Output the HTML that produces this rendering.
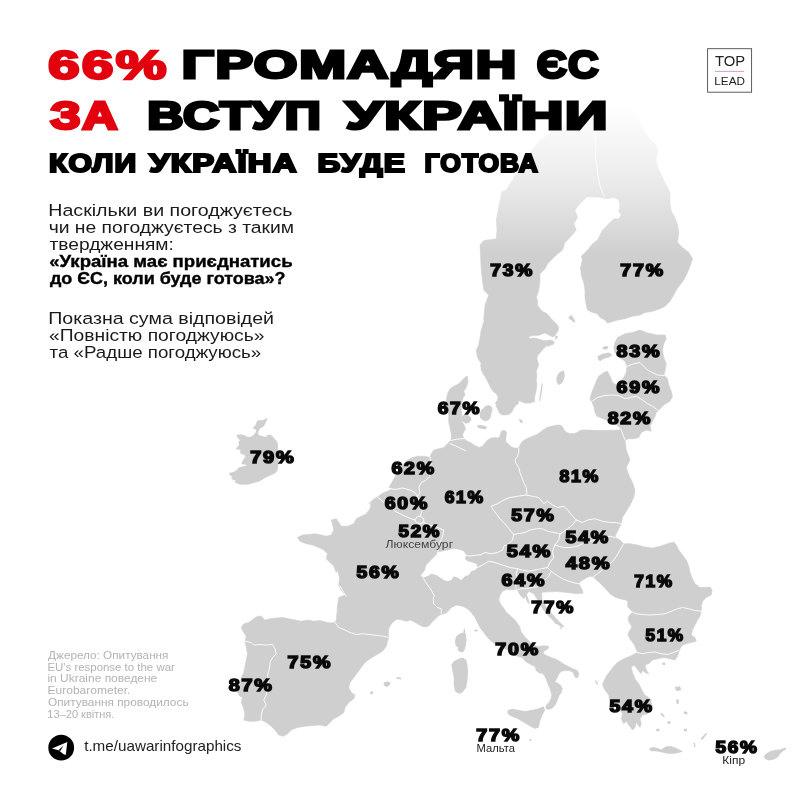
<!DOCTYPE html>
<html><head><meta charset="utf-8"><title>EU</title>
<style>
html,body{margin:0;padding:0;background:#fff;}
body{width:800px;height:800px;position:relative;overflow:hidden;font-family:"Liberation Sans",sans-serif;}
text{font-family:"Liberation Sans",sans-serif;}
</style></head><body>
<svg width="800" height="800" viewBox="0 0 800 800" style="position:absolute;left:0;top:0;will-change:transform">
<defs><linearGradient id="fade" gradientUnits="userSpaceOnUse" x1="0" y1="105" x2="0" y2="255"><stop offset="0" stop-color="#ffffff"/><stop offset="0.53" stop-color="#eaeaea"/><stop offset="1" stop-color="#cfcfcf"/></linearGradient></defs>
<path d="M608 104 L590 108 L575 116 L554 130 L541 139.5 L530 152.5 L521 165 L513.6 178.5 L506.25 190 L501.25 192 L501.25 195 L496.25 220 L497 230 L496.25 238.75 L483.75 240.5 L480 245 L481.25 270 L483.75 290 L488.75 295 L485 305 L483.75 320 L484.25 320 L481.25 330 L480 337.5 L478.75 345 L476.25 350 L477.5 357.5 L481.25 363.75 L480.6 365 L481.25 370 L483.1 373.75 L485.6 377.5 L487.5 381.25 L489.4 385 L491.25 388.75 L493.75 391.9 L496.25 393.75 L498.1 396.9 L497.5 400 L495.6 402.5 L496.25 406.25 L498.1 410 L499.4 413.1 L501.9 415 L505 415 L508.75 414.4 L511.9 411.9 L513.75 408.1 L515.6 405.6 L518.1 403.75 L518.75 400.6 L521.9 401.9 L525 403.1 L530 403.1 L535 401.25 L534.38 400 L535 395 L536.25 390 L536.88 385 L536.25 380 L536.88 375 L536.25 371.25 L537.5 368.12 L538.75 365 L537.5 361.25 L536.88 358.12 L538.12 355 L540 353.12 L541.88 350.62 L544.38 348.12 L546.88 345.62 L548.75 346.25 L550.62 345 L553.12 344.38 L554.38 342.5 L552.5 340.62 L550 340 L546.88 340.62 L543.75 340.62 L540.62 339.75 L537.5 338.75 L534.38 338.12 L530.62 338.5 L528.12 337.5 L530 336.25 L533.12 335.62 L536.88 335.62 L540 335 L542.5 333.75 L545 333.12 L547.5 334.38 L550 335.62 L552.5 336.88 L554.38 336.25 L556.25 333.75 L558.12 330.62 L558.75 327.5 L556.88 324.38 L553.75 321.25 L551.25 318.75 L548.75 315.62 L546.25 313.12 L543.12 311.88 L540 308.75 L537.5 305 L537.5 300 L536.25 297.5 L538.75 290 L540 280 L540 273.75 L545 268.75 L547.5 263.75 L552.5 258.75 L556.25 255 L562.5 250 L565 242.5 L570 237.5 L576.25 230 L573.75 223.75 L577.5 217.5 L575 210 L578.75 205 L587.5 196.25 L587.5 197 L595 197 L601.25 197.5 L607.5 198.75 L613.75 197.5 L618.75 200 L620 205 L618.75 211.25 L621.25 215 L618.75 218.75 L613.75 218.75 L610 222.5 L606.25 226.25 L602.5 230 L600 235 L597.5 240 L592.5 243.75 L588.75 248.75 L585 252.5 L581.25 256.25 L582.5 260 L580.5 267.5 L581.25 275 L583.75 282.5 L585 290 L585 297.5 L586.25 305 L587.5 310 L592.5 312.5 L597.5 313.75 L600 317.5 L605 320 L607.5 323 L611.25 322 L617.5 320 L625 318.75 L632.5 316.25 L640 315 L645 312.5 L652.5 311.25 L660 308.75 L665 306.25 L670 301.25 L673.75 295 L676.25 290 L680 285 L683.75 280 L687.5 272.5 L690 266.25 L692.5 258.75 L688.75 252.5 L682.5 247.5 L677.5 242.5 L678.75 232.5 L677.5 225 L675 217.5 L671.25 211.25 L670 202.5 L670 192.5 L665 182.5 L662 176 L658 168 L656 160 L658 150 L655 144 L649 138 L644 130 L640 122 L636 113 L630 104Z" fill="url(#fade)" stroke="url(#fade)" stroke-width="0.6" stroke-linejoin="round"/>
<path d="M615 342.5 L617.5 337.5 L625 333.75 L632.5 332.5 L640 330 L647.5 333 L657.5 335 L665 335 L666.25 338.75 L663.75 343.75 L662.5 350 L663.75 357.5 L666.25 363.75 L665 371.25 L663.75 375 L667.5 378.75 L668.75 385 L671.25 391.25 L672.5 396.25 L670 401.25 L663.75 405 L660 408.75 L656.25 412.5 L655 416.25 L652.5 421.25 L650 426.25 L651.25 431.25 L646.25 430 L641.25 432.5 L638.75 437.5 L633.75 438.75 L628.75 438.75 L625 440 L626.25 450 L630 460 L626.25 467.5 L628.75 475 L632.5 482.5 L635 490 L633.75 497.5 L630 505 L626.25 511.25 L622.5 517.5 L621.25 523.75 L618.75 528.75 L616.25 533.75 L615 537.5 L620 540 L623.75 543.75 L630 543.75 L637.5 545 L645 547 L652.5 548 L660 546.25 L667.5 543.75 L673.75 542 L676.25 545 L678.75 550 L682.5 555 L686.25 560 L688.75 566.25 L690 572.5 L692.5 578.75 L695 583.75 L700 587.5 L705 587.5 L710 587 L712 590 L711.25 595 L706.25 597.5 L702.5 601.25 L701.25 606.25 L701.25 611.25 L700 616.25 L697.5 620 L695 625 L692.5 630 L691.25 635 L695 637.5 L696.25 641.25 L691.25 642.5 L686.25 643.75 L682.5 645 L680 648.75 L678.75 652.5 L677.5 656.25 L675 660 L670 658.75 L663.75 657.5 L657.5 658.75 L652.5 660 L648.75 663.75 L645 665 L646.25 670 L648.75 673.75 L645 672.5 L642.5 670 L641.25 673.75 L638.75 671.25 L636.25 667.5 L633.75 665 L631.25 667.5 L632.5 672.5 L635 678.75 L638.75 683.75 L641.25 688.75 L643.75 693.75 L643.75 696.25 L647.5 698.75 L651.25 702.5 L652.5 706.25 L650 708.75 L647.5 713.75 L642.5 715 L640 718.75 L641.25 723.75 L640 727.5 L636.25 722.5 L635 727.5 L632.5 730 L628.75 725 L626.25 721.25 L623.75 723.75 L621.25 718.75 L622.5 713.75 L620 710 L615 706.25 L610 702.5 L608.75 695 L605 690 L602.5 685 L603.75 681.25 L606.25 676.25 L610 671.25 L613.75 666.25 L617.5 662.5 L623.75 658.75 L630 656.25 L637.5 652.5 L634.4 645 L631.5 641 L629.4 638.1 L628.1 635 L628.75 631.9 L631.9 626.9 L630 623.75 L628.1 620 L628.75 616.25 L632.5 611.9 L628.75 608.1 L627.5 605.6 L628.1 602.5 L626.25 600 L622.5 599.4 L615.6 597.5 L610 593.75 L604.4 587.5 L598.1 581.25 L593.1 576.9 L590 576.25 L586.9 577.5 L583.75 579.4 L580.6 581.25 L578.75 583.75 L580.6 586.9 L582.5 590.6 L583.1 593.1 L577.5 593.75 L571.25 593.1 L565 592.25 L557.5 591.5 L550 591.8 L541.75 592.25 L542 600 L546.5 607.5 L552.5 614.5 L558.75 621.5 L563.8 626.3 L562 627.3 L555.5 622.8 L549 616.5 L542.5 608.75 L538.75 602.5 L536.25 597.5 L533.75 593.75 L528.75 591.25 L526.25 595 L523.75 598.75 L520 595 L517.5 590 L515 588.75 L513.75 590 L506.25 589.5 L502.5 591.25 L500 595 L498.75 600 L501.25 605 L505 610 L506 612 L511.25 616.5 L515.75 621 L519.5 626.25 L521 631.5 L524.75 636.75 L528.5 640.5 L532.25 644.25 L537.5 646.5 L543.5 645.75 L548.75 646.2 L548 648.75 L544.25 651 L542.75 653.25 L546.5 655.5 L551.75 657.75 L556.25 659.25 L560 661.5 L564.5 664.5 L569 666.75 L573.5 669 L577.25 670.5 L578.75 673.5 L578 677.25 L575.75 678 L574.25 675 L572.75 672 L569 670.5 L565.25 670.5 L561.5 671.25 L559.25 673.5 L557.75 676.5 L556.25 679.5 L554.75 681.75 L557.75 683.25 L560.75 685.5 L562.25 688.5 L561.5 692.25 L559.25 695.25 L557.75 699 L556.25 702.75 L554 706.5 L551 708.75 L548 709.5 L545.75 708 L546.5 705 L548.75 702.75 L551 699 L551.75 695.25 L551 691.5 L549.5 687.75 L548 684 L546.5 680.25 L545 676.5 L542.75 673.5 L539 672.75 L536 670.5 L535.25 666.75 L532.25 665.25 L529.25 663.75 L525.5 661.5 L522.5 657.75 L517.5 656.25 L510 651.25 L502.5 647.5 L495 643.75 L491.25 641.25 L487.5 637.5 L483.75 632.5 L480 627.5 L477.5 622.5 L475 617.5 L471.25 612.5 L467.5 608.75 L462.5 606.25 L456.25 605 L452.5 606.9 L450 608.75 L448.1 611.25 L446.25 613.1 L443.75 613.75 L441.25 614.4 L438.75 615.6 L436.25 618.1 L433.75 620.6 L431.25 623.1 L429.4 625.6 L426.25 626.9 L422.5 626.5 L419.4 625 L416.25 623.1 L413.1 621.25 L410 620 L406.9 621.25 L403.75 620.6 L400 619.4 L396.25 619.4 L393.1 621.9 L390.6 625 L388.75 628.75 L388.3 633 L388.75 637.5 L387.5 641.25 L386.25 646.25 L382.5 651.25 L376.25 655 L370 658.75 L365 662.5 L361.25 667.5 L357.5 672.5 L353.75 677.5 L350 682.5 L348.75 687.5 L351.25 692.5 L355 695 L353.75 698.75 L348.75 702.5 L345 707.5 L343.75 712.5 L338.75 716.25 L333.75 718.75 L330 722.5 L326.25 726.25 L320 725 L312.5 725.5 L305 726.25 L297.5 727.5 L291.25 730 L287.5 733.75 L283.75 736.25 L278.75 735 L275 730 L271.25 726.25 L266.25 722.5 L261.25 720 L255 721.25 L248.75 721.25 L243.75 720 L245 715 L243.75 708.75 L241.25 702.5 L242.5 697.5 L240 696.25 L237.5 692.5 L240 685 L241.25 677.5 L243.75 672.5 L245 666.25 L246.25 660 L247.5 653.75 L246.25 647.5 L245 641.25 L246.25 636.25 L243.75 632.5 L241.25 627.5 L243.75 623.75 L248.75 622.5 L253.75 618.75 L257.5 616.25 L261.25 616.25 L265 620 L270 618.75 L276.25 618 L282.5 617.5 L288.75 618.75 L295 620 L301.25 621.25 L307.5 620 L313.75 621.25 L320 620.5 L325 622 L330 623 L335 622.5 L336.25 620 L337 612.5 L337.5 605 L338.75 597.5 L345 595 L341.25 590 L338.75 585 L339.5 577.5 L337.5 570 L336.25 572.5 L333.75 566.25 L330 562.5 L326.25 558.75 L327.5 553.75 L323.75 550 L318.75 547.5 L312.5 545 L306.25 543.75 L300 541.25 L297.5 537.5 L302.5 535 L308.75 534.5 L315 533.75 L321.25 535 L326.25 536.25 L331.25 535 L333.75 530 L332.5 523.75 L331.25 520 L336.25 518.75 L338.75 522.5 L341.25 526.25 L347.5 526.25 L353.75 523.75 L356.25 518.75 L361.25 516.25 L366.25 513.75 L370 508.75 L371.25 502.5 L368.75 503.75 L372.5 500 L376.25 497.5 L380 495 L383.75 492.5 L387.5 491.25 L392.5 488.75 L388.75 487.5 L391.25 483.75 L393.75 478.75 L398.75 471.25 L403.75 463.75 L407.5 460 L412.5 457.5 L417.5 456.25 L425 456.25 L430 457.5 L431.25 453.75 L433.75 450 L438.75 448.75 L443.75 447.5 L447.5 443.75 L452 438.75 L451.25 440 L451.25 433.75 L450 427.5 L448.75 422.5 L448.75 416.25 L447.5 406.25 L446.25 400 L447.5 393.75 L450 388.75 L453.75 386.25 L458.75 383.75 L462.5 380 L466.25 376.25 L467.5 376.25 L468 382.5 L466.25 387.5 L463.75 391.25 L465 395 L462.5 398.75 L461.25 407.5 L461.9 415 L461.25 418.75 L462.5 422.5 L464.4 425.6 L465.6 428.75 L463.75 431.9 L462.5 435 L463.75 438.1 L466.25 440.6 L468.75 441.9 L471.25 443.1 L473.75 445 L476.9 446.25 L479.4 447.5 L482.5 446.25 L485 443.1 L487.5 440 L491.25 438.1 L495 437.5 L498.1 438.1 L500 436 L501 431.5 L504 430 L506.5 432 L506 436.5 L505.6 441.25 L508.5 444 L511.25 446.9 L514.4 448.1 L517.5 448.1 L518.75 448.1 L520 445 L521.9 441.9 L524.4 440 L528.1 438.1 L532.5 436.25 L536.9 434.4 L540.6 431.9 L543.75 429.4 L546.9 427.5 L550.6 426.5 L554.4 425.6 L558.1 425 L561.25 425.6 L563.1 428.1 L564.4 430.6 L566.9 432.5 L570.6 433.75 L574.4 433.5 L577.5 432.25 L580 430.6 L583.1 430 L587.5 430 L600 430.6 L621.25 430 L620 427.5 L612.5 422.5 L597 416.25 L595 412.5 L593.75 406.25 L592.5 403.75 L590 398.75 L591.25 393.75 L593.75 387.5 L596.25 381.25 L598.75 376.25 L603.75 372.5 L607.5 371.25 L610 376.25 L612.5 382.5 L616.25 385 L620 382.5 L623.75 377.5 L626.25 372.5 L627 366.25 L625 361.25 L621.25 358.75 L617.5 356.25 L615 352.5 L613.75 347.5Z" fill="#cfcfcf" stroke="#cfcfcf" stroke-width="0.6" stroke-linejoin="round"/>
<path d="M437.5 552.5 L442.5 551.25 L448.75 550 L453.75 548.75 L458.75 549.5 L463.75 551.25 L466.25 555 L465 558.75 L467.5 561.25 L472.5 562.5 L476.25 563.75 L477.5 567.5 L475 570 L471.25 571.25 L468.75 575 L465 576.25 L461.25 580 L457.5 577.5 L453.75 576.25 L451.25 580 L447.5 581.25 L443.75 580 L440 577.5 L436.25 575 L431.25 573.75 L427.5 576.25 L423.75 577.5 L421.25 575 L425 570 L426.25 565 L430 561.25 L433.75 557.5 L436.25 555Z" fill="#fff"/>
<path d="M269 418.5 L267 419.5 L265.5 423 L264 426 L262 427.5 L260 428.5 L258.5 431.5 L258 434 L260 435.5 L263 436.2 L266 437 L267.5 435 L270 434.5 L272.5 436 L274 438.5 L276 440 L277.5 442.5 L278 446 L277.8 450 L278.5 455 L278.8 462 L278 467 L277.5 470 L276 472.5 L274 474 L271 475 L268 476.5 L265 478 L262 480 L259 481.5 L255.5 482.5 L252 483.5 L248 484.5 L244 484.8 L240 484.5 L237 483.5 L234.5 482 L236 480.5 L233 480 L231 478.5 L232.5 477 L230 475.5 L229 473 L231.5 472.5 L234.5 471.5 L237 470 L238 468 L240 467 L242.5 466.5 L245 466 L247 465 L244.5 464.5 L241.5 464 L242.5 461 L244 458.5 L245.5 456.5 L244.5 455 L241.5 454 L240 452.5 L240.5 450 L237.5 449.5 L235.5 448.5 L237.5 447 L239 445 L238.5 442 L240 440 L238 438.5 L236.5 436 L237.5 434.5 L241 434.5 L244 435 L246.5 436.5 L249 437 L252 436.2 L254 434.5 L255.5 432.5 L256.5 430 L254.5 429 L252.5 428 L254.5 426.5 L256 424 L257 421 L259.5 420 L262 420.5 L264 419.5 L266 418.5Z M507.5 710 L512.5 708.75 L518.75 710 L525 711.25 L531.25 710 L537.5 708.75 L543.75 706.25 L545 710 L542.5 715 L540 721.25 L538.75 727.5 L535 728.75 L530 726.25 L523.75 722.5 L517.5 718.75 L511.25 716.25 L507.5 713.75Z M458.75 658.75 L462.5 657.5 L466.25 660 L467.5 665 L468 672.5 L467.5 680 L466.25 687.5 L462.5 692.5 L458.75 693.75 L455 691.25 L453.75 685 L453.75 677.5 L452.5 671.25 L451.25 665 L453.75 661.25Z M464 627.5 L465 630 L465.25 633.12 L466 635.62 L466.5 640 L465.88 645 L464.62 650 L462.75 652.5 L460 651.88 L457.5 650 L458.12 647.5 L455.62 645.62 L455 641.88 L455.62 638.12 L456.88 635.62 L460 633.38 L463.5 632.5Z M473.75 630.3 L476 629.6 L478 630 L477.5 631.3 L475 631.5Z M528.75 738.75 L531.25 739.5 L532 741.25 L529.5 740.5Z M383.75 682.5 L387.5 681.25 L390.5 683 L389.5 685.5 L386.25 687 L383.75 685Z M395.62 677.88 L398.12 677.12 L401.25 678.12 L401 679.38 L398.12 679.12Z M370 691.75 L373 691.25 L373 693.75 L370.5 694.5Z M648.75 748.75 L652.5 747 L657.5 748 L661.25 749.5 L666.25 746.25 L671.25 746.25 L676.25 748 L680 750 L683 751.25 L680 752.5 L673.75 753.75 L667.5 753.75 L662.5 752.5 L656.25 751.25 L651.25 751.25Z M764 756 L767 753 L771 751 L775 750 L780 749.6 L784 748 L787 747.6 L785 750 L782 752 L780 754 L778 757 L774 759.6 L769 760.6 L765 759Z M701 738 L706 733 L707 734 L703 739 L701 740Z M693.6 743 L695 743 L695.4 747 L694 747Z M561.25 371.25 L563.75 370.62 L564.75 373.75 L564.38 377.5 L563.12 381.25 L561.25 383.75 L558.75 385 L556.88 382.5 L556.25 378.75 L557.5 375 L559.38 372.5Z M541.88 383.12 L542.75 383.75 L542.12 390 L540.88 397.5 L540 401.25 L539.12 401.25 L540 393.75 L541 387.5Z M461.88 416.25 L464.38 414.38 L467.5 415 L470.62 416.88 L471.25 420 L469.38 422.5 L466.25 423.75 L463.12 421.88 L461.25 418.75Z M485 406.25 L488.75 405 L491.88 406.88 L492.5 410 L491.25 413.75 L490.62 417.5 L488.75 420 L485.62 421.25 L482.5 420 L480 417.5 L479.38 413.75 L481.25 410 L483.75 408.12Z M476.88 425.62 L480 425 L483.75 425.62 L486.88 426.88 L485.62 429.38 L481.88 428.75 L478.12 428.12Z M519.38 418.75 L521.88 420 L523.12 422.5 L521.25 423.12 L519.38 421.25Z M597.5 356.25 L602.5 353.75 L608.75 352.5 L612.5 355 L608.75 357.5 L603.75 358.75 L600 361.25 L598 359.5Z M602.5 347.5 L606.25 345.75 L608.75 347.5 L606.25 349.5 L603 349.25Z M568.12 317.5 L570 316.25 L571.25 314.75 L572.75 316.88 L574 318.75 L575.25 321.88 L573.75 322.75 L571.88 320.62 L570 319.38Z M555.62 335.62 L558.12 336.25 L556.88 338.75 L555 339.38Z M640 692.5 L643.75 693.75 L648.75 697.5 L652.5 701.25 L650 701.25 L645 698 L640.5 694.5Z M525 594.5 L526.5 594 L528.5 599 L529.5 603.5 L528 603.5 L526 599Z M554.5 622.5 L556 622.3 L556.5 623.8 L555 624Z M559.5 627.5 L561 627.5 L561.5 629 L560 629Z M595 680 L597 681.25 L598 685 L596 683.75Z M662.5 662.5 L665 662.5 L665 665 L662.5 665Z M675 687 L680 686.25 L681.25 690 L677.5 691.25 L675.5 689.5Z M676.25 699.5 L678.75 699.5 L678.75 703.75 L676.5 703.75Z M667.5 721.25 L670.5 721.25 L670.5 723.75 L667.5 723.75Z M683.75 728.75 L687 728.75 L687 731.25 L683.75 731.25Z M656.25 728.75 L659.5 728.75 L659.5 731.25 L656.25 731.25Z M683.75 711.25 L687.5 712 L687 714.5 L683.75 713.75Z M660 712.5 L663 713.75 L665 717.5 L662 716.25Z" fill="#cfcfcf"/>
<path d="M604 196 L600 186 L598 176 L597 166 L595 156 L596 146 L595 138 L596 128 L594 118 L596 104 M627 366.25 L633.75 363.75 L640 362.5 L643.75 366.25 L647.5 370 L652.5 372.5 L657.5 375 L663.75 375.5 M591.25 402 L597.5 397.5 L605 395.5 L612.5 395 L618.75 395.5 L625 398.75 L631.25 397.5 L636.25 396.25 L642.5 400 L647.5 403.75 L652.5 406.25 L657.5 410 M621.25 430 L623 435 L625 440 M518.75 448.1 L518.75 452.5 L517.5 456.25 L515 460 L516.25 463.75 L518.75 467.5 L520 472.5 L521.9 477.5 L523.75 482.5 L526.25 487.5 L526.9 492.5 L526.5 494 M450.6 440.5 L457 439.2 L464.5 438.6 M526.25 495 L532.5 496.25 L538.75 497.5 L543.75 503.75 L547.5 501.25 L552.5 505 L557.5 507.5 L563.75 506.25 L568.75 511.25 L572.5 516.25 L576.25 520 M576.25 520 L582.5 522.5 L587.5 520 L595 518.75 L602.5 521.25 L610 522.5 L616.25 522.5 L621.25 523.75 M576.25 520 L572.5 525 L567.5 528.75 L562.5 532.5 L560 533.75 M560 533.75 L553.75 532.5 L547.5 531.25 L542.5 528.75 L536.25 528.75 L530 530 L525 532.5 L517.5 533.75 L513.75 534.5 M513.75 534.5 L510 530 L505 523.75 L500 518.75 L496.25 513.75 L492.5 508.75 L491.25 506.25 L497.5 503.75 L503.75 500 L510 497.5 L517.5 496.25 L526.25 495 M513.75 534.5 L512.5 540 L508.75 543.75 L503.75 546.25 L502.5 550 L497.5 552.5 L491.25 553.75 L485 552.5 L480 555 M480 555 L476.25 555 L470 556.25 L465 555 M560 533.75 L558.75 540 L555 545 M555 545 L562.5 547.5 L570 547.5 L577.5 546.25 L582.5 543.75 L590 541.25 L597.5 540 L605 537.5 L610 536.25 L615 537.5 M555 545 L552.5 551.25 L553.75 557.5 L550 562.5 L547.5 567.5 M547.5 567.5 L541.25 568.75 L535 570 L528.75 571.25 L522.5 570 L517.5 568.75 M517.5 568.75 L510 567.5 L502.5 565 L495 562.5 L488.75 561.25 L482.5 565 L480 566.25 M480 566.25 L477.5 567.5 M517.5 568.75 L516.25 573.75 L517.5 578.75 L515 583.75 L516.25 588 M547.5 567.5 L551.25 571.25 M551.25 571.25 L548.75 576.25 L545 580 L541.25 582.5 L538.75 586.25 L532.5 587.5 L526.25 588.75 L521.25 588.75 L517.5 589.5 M551.25 571.25 L556.25 575 L562.5 578.75 L568.75 581.25 L575 583 L578.75 583.75 M623.75 543.75 L620 550 L616.25 556.5 L612.5 561.5 L607.5 566.25 L602.5 570 L597.5 573.75 L593.1 576.9 M632.5 612 L636.25 613.75 L642.5 614.5 L650 615 L657.5 614.5 L665 613.75 L671.25 611.25 L677.5 608.75 L682.5 607.5 L688.75 608.75 L695 610.5 L701.25 611.25 M637.5 652.5 L642.5 653.75 L648.75 652.5 L655 652 L661.25 653.75 L667.5 654.5 L673.75 652.5 L678.75 650.5 M430 457.5 L431.25 463.75 L428.75 470 L430 476.25 L426.25 480 L421.25 482.5 L418.75 487.5 L420 492.5 L417.5 496.25 M388.75 488 L395 489.5 L402.5 488 L410 490 L415 492.5 L417.5 496.25 M417.5 496.25 L420 502.5 L422.5 507.5 L421.25 513.75 L420 516.25 M377.5 497 L382.5 501.25 L386.25 505 L391.25 506.25 L395 511.25 L400 513.75 L405 516.25 L411.25 518.75 L415 520 M420 516.25 L423.75 518.75 L423.75 522.5 L420 523.75 L416.25 522.5 L415 520 L417.5 516.25 L420 516.25 M423.75 522.5 L430 525 L437.5 527.5 L443.75 530 L442.5 536.25 L440 542.5 L438.75 548.75 L437.5 552.5 M421.25 575 L423.75 578.75 L427.5 585 L431.25 590 L433.75 595 L434.5 595.5 L433.1 598.75 L433.75 603.75 L437.5 607.5 L441.25 608.75 L441.25 613.75 M335 622.5 L338.75 627.5 L345 630 L350 632.5 L356.25 634.5 L362.5 633.75 L370 634.5 L377.5 635.5 L383.75 636.25 L388.75 637.5 M245 641.25 L251.25 642.5 L253.75 645 L260 644.5 L266.25 645 L272.5 644.5 L275 648.75 L276.25 653.75 L272.5 657.5 L270 662.5 L269.5 668.75 L267.5 675 L268.75 681.25 L267.5 687.5 L266.25 695 L263.75 700 L266.25 705 L262.5 710 L261.25 715 L261.25 720 M340 586.25 L343.75 592.5 L346.25 596.25 M450 443.75 L455 445.6 L460 448.1 L466 450.8" fill="none" stroke="#fff" stroke-width="0.9" stroke-linejoin="round" stroke-linecap="round"/>
<g font-family="Liberation Sans, sans-serif">
<text x="47.99" y="78.6" font-size="40" font-weight="bold" fill="#e2000f" stroke="#e2000f" stroke-width="2.4" stroke-linejoin="miter" letter-spacing="1.5" textLength="120.49" lengthAdjust="spacingAndGlyphs">66%</text>
<text x="181.88" y="78.3" font-size="39.14" font-weight="bold" fill="#000" stroke="#000" stroke-width="3.0" stroke-linejoin="miter" letter-spacing="1.2" textLength="335.99" lengthAdjust="spacingAndGlyphs">ГРОМАДЯН</text>
<text x="536.68" y="78.3" font-size="39.14" font-weight="bold" fill="#000" stroke="#000" stroke-width="3.0" stroke-linejoin="miter" letter-spacing="1.2" textLength="63.28" lengthAdjust="spacingAndGlyphs">ЄС</text>
<text x="50.23" y="129.3" font-size="39.14" font-weight="bold" fill="#e2000f" stroke="#e2000f" stroke-width="3.0" stroke-linejoin="miter" letter-spacing="1.2" textLength="68.63" lengthAdjust="spacingAndGlyphs">ЗА</text>
<text x="147.22" y="129.3" font-size="39.14" font-weight="bold" fill="#000" stroke="#000" stroke-width="3.0" stroke-linejoin="miter" letter-spacing="1.2" textLength="175.1" lengthAdjust="spacingAndGlyphs">ВСТУП</text>
<text x="345.83" y="129.3" font-size="39.14" font-weight="bold" fill="#000" stroke="#000" stroke-width="3.0" stroke-linejoin="miter" letter-spacing="1.2" textLength="263.48" lengthAdjust="spacingAndGlyphs">УКРАЇНИ</text>
<text x="48.98" y="172.2" font-size="25.86" font-weight="bold" fill="#000" stroke="#000" stroke-width="2.2" stroke-linejoin="miter" letter-spacing="1" textLength="88.46" lengthAdjust="spacingAndGlyphs">КОЛИ</text>
<text x="149.15" y="172.2" font-size="25.86" font-weight="bold" fill="#000" stroke="#000" stroke-width="2.2" stroke-linejoin="miter" letter-spacing="1" textLength="148.6" lengthAdjust="spacingAndGlyphs">УКРАЇНА</text>
<text x="317.5" y="172.2" font-size="25.86" font-weight="bold" fill="#000" stroke="#000" stroke-width="2.2" stroke-linejoin="miter" letter-spacing="1" textLength="88.75" lengthAdjust="spacingAndGlyphs">БУДЕ</text>
<text x="424.61" y="172.2" font-size="25.86" font-weight="bold" fill="#000" stroke="#000" stroke-width="2.2" stroke-linejoin="miter" letter-spacing="1" textLength="114.39" lengthAdjust="spacingAndGlyphs">ГОТОВА</text>
<text x="48.29" y="216" font-size="17.14" fill="#1a1a1a" textLength="244.24" lengthAdjust="spacingAndGlyphs">Наскільки ви погоджуєтесь</text>
<text x="48.67" y="233" font-size="17.14" fill="#1a1a1a" textLength="245.39" lengthAdjust="spacingAndGlyphs">чи не погоджуєтесь з таким</text>
<text x="49.59" y="250" font-size="17.14" fill="#1a1a1a" textLength="124.3" lengthAdjust="spacingAndGlyphs">твердженням:</text>
<text x="49.17" y="267" font-size="17.14" font-weight="bold" fill="#000" stroke="#000" stroke-width="0.4" stroke-linejoin="miter" textLength="243.41" lengthAdjust="spacingAndGlyphs">«Україна має приєднатись</text>
<text x="49.94" y="284" font-size="17.14" font-weight="bold" fill="#000" stroke="#000" stroke-width="0.4" stroke-linejoin="miter" textLength="235.53" lengthAdjust="spacingAndGlyphs">до ЄС, коли буде готова»?</text>
<text x="48.23" y="324" font-size="17.14" fill="#1a1a1a" textLength="225.85" lengthAdjust="spacingAndGlyphs">Показна сума відповідей</text>
<text x="49.01" y="341" font-size="17.14" fill="#1a1a1a" textLength="215.52" lengthAdjust="spacingAndGlyphs">«Повністю погоджуюсь»</text>
<text x="49.6" y="358" font-size="17.14" fill="#1a1a1a" textLength="211.68" lengthAdjust="spacingAndGlyphs">та «Радше погоджуюсь»</text>
<text x="48.12" y="659.2" font-size="10.57" fill="#b3b3b3" textLength="120.35" lengthAdjust="spacingAndGlyphs">Джерело: Опитування</text>
<text x="47.45" y="670.8" font-size="10.57" fill="#b3b3b3" textLength="127.41" lengthAdjust="spacingAndGlyphs">EU's response to the war</text>
<text x="47.45" y="682.4" font-size="10.57" fill="#b3b3b3" textLength="109.85" lengthAdjust="spacingAndGlyphs">in Ukraine поведене</text>
<text x="47.54" y="694.1" font-size="10.57" fill="#b3b3b3" textLength="82.88" lengthAdjust="spacingAndGlyphs">Eurobarometer.</text>
<text x="47.95" y="705.8" font-size="10.57" fill="#b3b3b3" textLength="140.62" lengthAdjust="spacingAndGlyphs">Опитування проводилось</text>
<text x="47.36" y="717.5" font-size="10.57" fill="#b3b3b3" textLength="67.01" lengthAdjust="spacingAndGlyphs">13–20 квітня.</text>
<text x="84.16" y="751" font-size="14.57" fill="#222" textLength="157.29" lengthAdjust="spacingAndGlyphs">t.me/uawarinfographics</text>
<text x="714.97" y="66.3" font-size="14.57" fill="#222" textLength="30.22" lengthAdjust="spacingAndGlyphs">TOP</text>
<text x="714.32" y="85" font-size="11.14" fill="#222" textLength="30.68" lengthAdjust="spacingAndGlyphs">LEAD</text>
<text x="385.64" y="548" font-size="10.43" fill="#444" textLength="67.45" lengthAdjust="spacingAndGlyphs">Люксембург</text>
<text x="476.63" y="751.5" font-size="10.43" fill="#222" textLength="38.39" lengthAdjust="spacingAndGlyphs">Мальта</text>
<text x="722.38" y="764" font-size="10.43" fill="#222" textLength="22.81" lengthAdjust="spacingAndGlyphs">Кіпр</text>
<text x="490.37" y="275.55" font-size="16.43" font-weight="bold" fill="#0a0a0a" stroke="#0a0a0a" stroke-width="1.5" stroke-linejoin="miter" letter-spacing="1.5" textLength="43.74" lengthAdjust="spacingAndGlyphs">73%</text>
<text x="620.36" y="275.55" font-size="16.43" font-weight="bold" fill="#0a0a0a" stroke="#0a0a0a" stroke-width="1.5" stroke-linejoin="miter" letter-spacing="1.5" textLength="44.45" lengthAdjust="spacingAndGlyphs">77%</text>
<text x="616.51" y="357.25" font-size="16.43" font-weight="bold" fill="#0a0a0a" stroke="#0a0a0a" stroke-width="1.5" stroke-linejoin="miter" letter-spacing="1.5" textLength="45.02" lengthAdjust="spacingAndGlyphs">83%</text>
<text x="616.46" y="392.55" font-size="16.43" font-weight="bold" fill="#0a0a0a" stroke="#0a0a0a" stroke-width="1.5" stroke-linejoin="miter" letter-spacing="1.5" textLength="44.69" lengthAdjust="spacingAndGlyphs">69%</text>
<text x="437.74" y="414.25" font-size="16.43" font-weight="bold" fill="#0a0a0a" stroke="#0a0a0a" stroke-width="1.5" stroke-linejoin="miter" letter-spacing="1.5" textLength="43.38" lengthAdjust="spacingAndGlyphs">67%</text>
<text x="607.74" y="424.25" font-size="16.43" font-weight="bold" fill="#0a0a0a" stroke="#0a0a0a" stroke-width="1.5" stroke-linejoin="miter" letter-spacing="1.5" textLength="44.4" lengthAdjust="spacingAndGlyphs">82%</text>
<text x="559.43" y="481.75" font-size="16.43" font-weight="bold" fill="#0a0a0a" stroke="#0a0a0a" stroke-width="1.5" stroke-linejoin="miter" letter-spacing="1.5" textLength="40.39" lengthAdjust="spacingAndGlyphs">81%</text>
<text x="444.69" y="503.45" font-size="16.43" font-weight="bold" fill="#0a0a0a" stroke="#0a0a0a" stroke-width="1.5" stroke-linejoin="miter" letter-spacing="1.5" textLength="39.93" lengthAdjust="spacingAndGlyphs">61%</text>
<text x="511.19" y="521.25" font-size="16.43" font-weight="bold" fill="#0a0a0a" stroke="#0a0a0a" stroke-width="1.5" stroke-linejoin="miter" letter-spacing="1.5" textLength="44.36" lengthAdjust="spacingAndGlyphs">57%</text>
<text x="565.55" y="542.75" font-size="16.43" font-weight="bold" fill="#0a0a0a" stroke="#0a0a0a" stroke-width="1.5" stroke-linejoin="miter" letter-spacing="1.5" textLength="44.48" lengthAdjust="spacingAndGlyphs">54%</text>
<text x="506.68" y="556.75" font-size="16.43" font-weight="bold" fill="#0a0a0a" stroke="#0a0a0a" stroke-width="1.5" stroke-linejoin="miter" letter-spacing="1.5" textLength="45.51" lengthAdjust="spacingAndGlyphs">54%</text>
<text x="565.86" y="569.25" font-size="16.43" font-weight="bold" fill="#0a0a0a" stroke="#0a0a0a" stroke-width="1.5" stroke-linejoin="miter" letter-spacing="1.5" textLength="45.63" lengthAdjust="spacingAndGlyphs">48%</text>
<text x="501.46" y="586.25" font-size="16.43" font-weight="bold" fill="#0a0a0a" stroke="#0a0a0a" stroke-width="1.5" stroke-linejoin="miter" letter-spacing="1.5" textLength="44.69" lengthAdjust="spacingAndGlyphs">64%</text>
<text x="634.35" y="586.75" font-size="16.43" font-weight="bold" fill="#0a0a0a" stroke="#0a0a0a" stroke-width="1.5" stroke-linejoin="miter" letter-spacing="1.5" textLength="39.28" lengthAdjust="spacingAndGlyphs">71%</text>
<text x="531.37" y="612.75" font-size="16.43" font-weight="bold" fill="#0a0a0a" stroke="#0a0a0a" stroke-width="1.5" stroke-linejoin="miter" letter-spacing="1.5" textLength="43.74" lengthAdjust="spacingAndGlyphs">77%</text>
<text x="645.5" y="640.75" font-size="16.43" font-weight="bold" fill="#0a0a0a" stroke="#0a0a0a" stroke-width="1.5" stroke-linejoin="miter" letter-spacing="1.5" textLength="39.13" lengthAdjust="spacingAndGlyphs">51%</text>
<text x="495.36" y="655.25" font-size="16.43" font-weight="bold" fill="#0a0a0a" stroke="#0a0a0a" stroke-width="1.5" stroke-linejoin="miter" letter-spacing="1.5" textLength="44.58" lengthAdjust="spacingAndGlyphs">70%</text>
<text x="609.53" y="711.75" font-size="16.43" font-weight="bold" fill="#0a0a0a" stroke="#0a0a0a" stroke-width="1.5" stroke-linejoin="miter" letter-spacing="1.5" textLength="44.26" lengthAdjust="spacingAndGlyphs">54%</text>
<text x="476.36" y="740.75" font-size="16.43" font-weight="bold" fill="#0a0a0a" stroke="#0a0a0a" stroke-width="1.5" stroke-linejoin="miter" letter-spacing="1.5" textLength="44.77" lengthAdjust="spacingAndGlyphs">77%</text>
<text x="715.53" y="752.55" font-size="16.43" font-weight="bold" fill="#0a0a0a" stroke="#0a0a0a" stroke-width="1.5" stroke-linejoin="miter" letter-spacing="1.5" textLength="43.2" lengthAdjust="spacingAndGlyphs">56%</text>
<text x="250.21" y="463.25" font-size="16.43" font-weight="bold" fill="#0a0a0a" stroke="#0a0a0a" stroke-width="1.5" stroke-linejoin="miter" letter-spacing="1.5" textLength="45.42" lengthAdjust="spacingAndGlyphs">79%</text>
<text x="356.48" y="577.55" font-size="16.43" font-weight="bold" fill="#0a0a0a" stroke="#0a0a0a" stroke-width="1.5" stroke-linejoin="miter" letter-spacing="1.5" textLength="44.02" lengthAdjust="spacingAndGlyphs">56%</text>
<text x="287.57" y="667.75" font-size="16.43" font-weight="bold" fill="#0a0a0a" stroke="#0a0a0a" stroke-width="1.5" stroke-linejoin="miter" letter-spacing="1.5" textLength="44.64" lengthAdjust="spacingAndGlyphs">75%</text>
<text x="228.73" y="690.75" font-size="16.43" font-weight="bold" fill="#0a0a0a" stroke="#0a0a0a" stroke-width="1.5" stroke-linejoin="miter" letter-spacing="1.5" textLength="45.04" lengthAdjust="spacingAndGlyphs">87%</text>
<text x="391.45" y="473.55" font-size="16.43" font-weight="bold" fill="#0a0a0a" stroke="#0a0a0a" stroke-width="1.5" stroke-linejoin="miter" letter-spacing="1.5" textLength="44.44" lengthAdjust="spacingAndGlyphs">62%</text>
<text x="384.74" y="509.25" font-size="16.43" font-weight="bold" fill="#0a0a0a" stroke="#0a0a0a" stroke-width="1.5" stroke-linejoin="miter" letter-spacing="1.5" textLength="44.41" lengthAdjust="spacingAndGlyphs">60%</text>
<text x="398.53" y="537.25" font-size="16.43" font-weight="bold" fill="#0a0a0a" stroke="#0a0a0a" stroke-width="1.5" stroke-linejoin="miter" letter-spacing="1.5" textLength="42.61" lengthAdjust="spacingAndGlyphs">52%</text>
</g>
<rect x="707.6" y="48.7" width="44" height="43.5" fill="none" stroke="#4a4a4a" stroke-width="0.9"/>
<rect x="715" y="70.9" width="29.2" height="0.8" fill="#c585c0"/>
<circle cx="61.2" cy="747.7" r="12.9" fill="#000"/>
<path d="M52 748.4 L67.3 741.9 L65.8 754.8 L64 754.6 L58.6 750.3 Z" fill="#fff"/>
<path d="M58.5 750.2 L63.5 745.5 L60.3 750.9 Z" fill="#000"/>
</svg>
</body></html>
